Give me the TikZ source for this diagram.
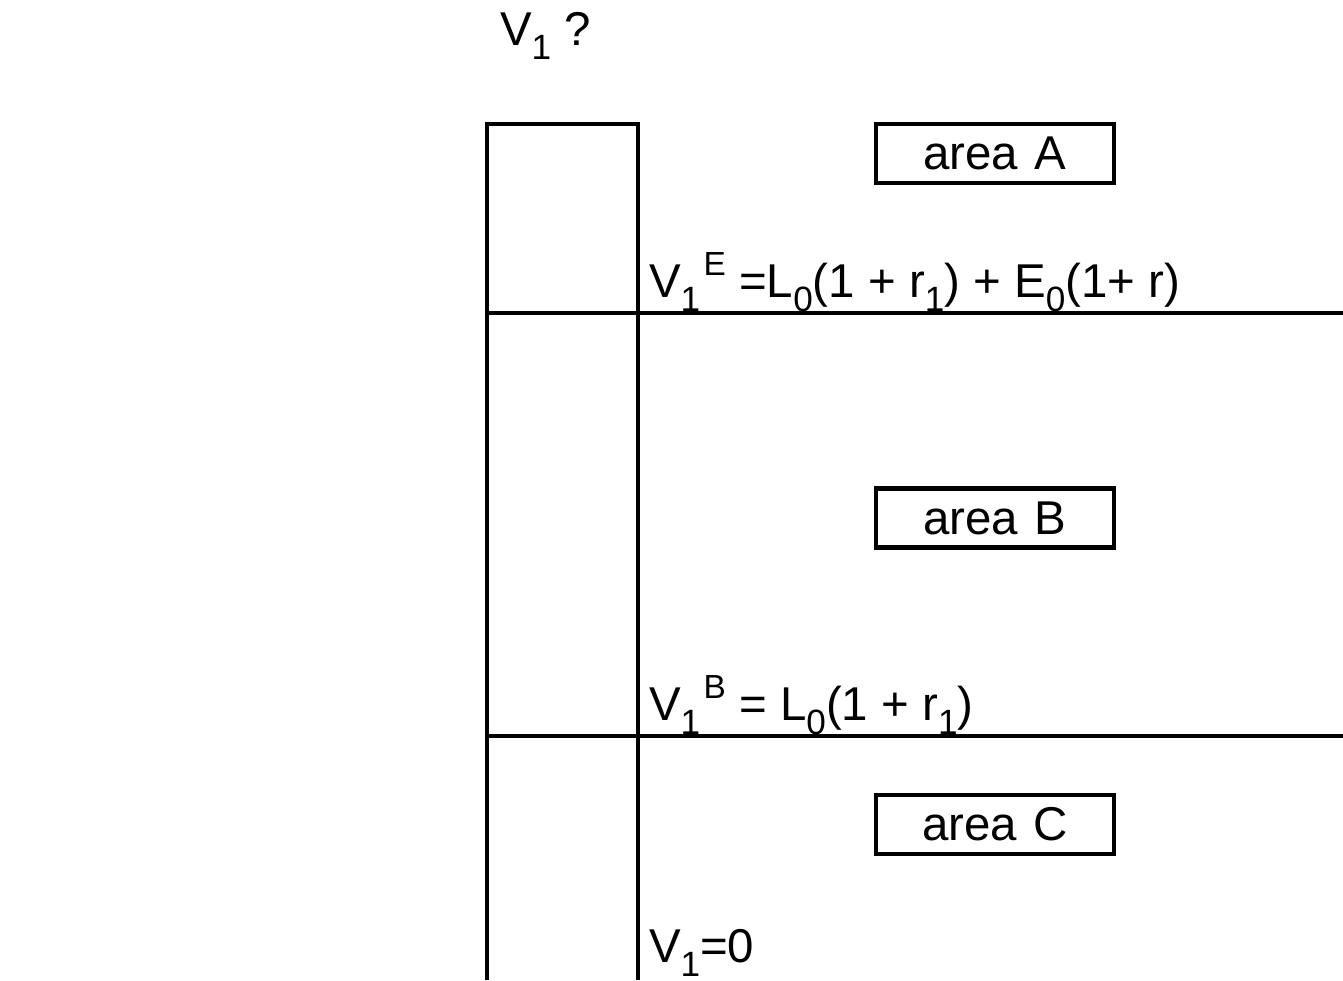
\documentclass[tikz,border=0pt]{standalone}
\usepackage{fontspec}
\setmainfont{Liberation Sans}
\usetikzlibrary{positioning}
\newcommand{\subidx}[1]{\raisebox{-0.3em}{\fontsize{10}{11}\selectfont #1}}
\newcommand{\supidx}[1]{\raisebox{0.46em}{\fontsize{9.5}{10}\selectfont #1}}

\begin{document}
\begin{tikzpicture}[line width=1.15pt,
    areabox/.style={draw, minimum width=2.38cm, minimum height=0.59cm,
                    inner sep=0pt, font=\fontsize{13.5}{15}\selectfont},
    val/.style={anchor=base west, inner sep=0pt,
                font=\fontsize{13.5}{15}\selectfont}
]
    \useasboundingbox (0,0) rectangle (13.43,9.80);

    % Column
    \draw (4.87,0) -- (4.87,8.56) -- (6.38,8.56) -- (6.38,0);

    % Thresholds
    \draw (4.87,6.67) -- (13.43,6.67);
    \draw (4.87,2.44) -- (13.43,2.44);

    % Question
    \node[val] (vq) at (4.98,9.35) {V\subidx{1} ?};

    % Areas
    \node[areabox] (areaA) at (9.95,8.265) {area\hspace{0.35em}A};
    \node[areabox] (areaB) at (9.95,4.62)  {area\hspace{0.35em}B};
    \node[areabox] (areaC) at (9.95,1.56)  {area\hspace{0.35em}C};

    % Values
    \node[val] (vE) at (6.47,6.83)
         {V\subidx{1}\kern1pt\supidx{E}\ =L\subidx{0}(1 + r\subidx{1}) + E\subidx{0}(1+ r)};
    \node[val] (vB) at (6.47,2.60)
         {V\subidx{1}\kern1pt\supidx{B}\ = L\subidx{0}(1 + r\subidx{1})};
    \node[val] (v0) at (6.47,0.18) {V\subidx{1}=0};
\end{tikzpicture}
\end{document}
